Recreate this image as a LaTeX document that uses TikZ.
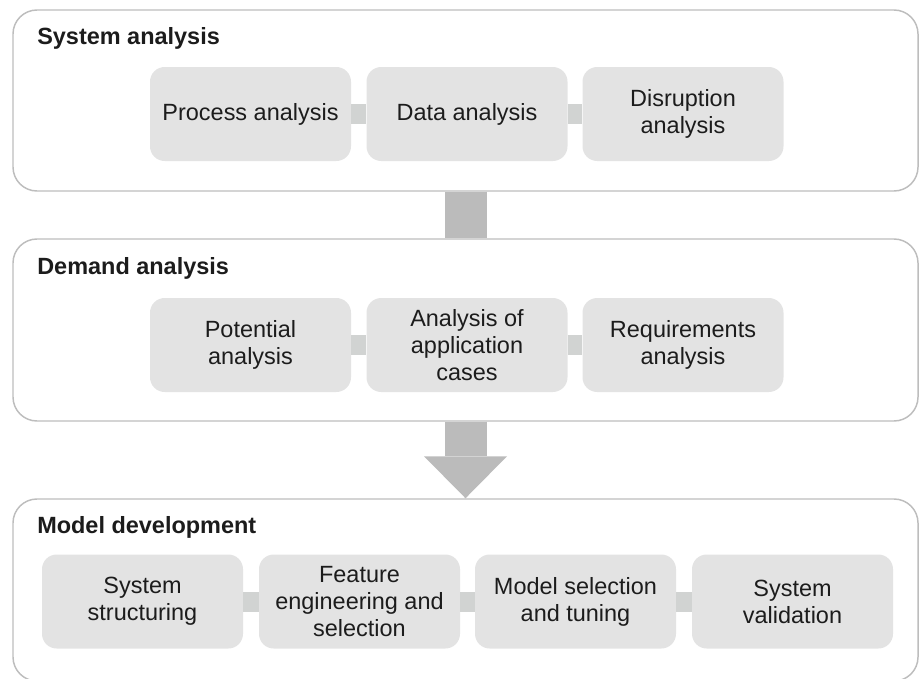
\documentclass[tikz,border=0pt]{standalone}
\usepackage{fontspec}
\setmainfont{Liberation Sans}
\usetikzlibrary{arrows.meta}
\definecolor{framegray}{HTML}{BDBDBD}
\definecolor{boxgray}{HTML}{E3E3E3}
\definecolor{linkgray}{HTML}{D1D3D2}
\definecolor{bargray}{HTML}{BBBBBB}
\definecolor{textdark}{HTML}{1C1C1C}
\tikzset{
  panel/.style={draw=framegray, line width=1.1pt, rounded corners=18pt, minimum width=678.75pt, inner sep=0pt},
  stage/.style={fill=boxgray, rounded corners=11pt, minimum width=150.75pt, minimum height=70.5pt,
    align=center, inner sep=0pt, text=textdark, font=\fontsize{17.6}{20.25}\selectfont},
  title/.style={anchor=base west, inner sep=0pt, text=textdark, font=\fontsize{17.6}{20.25}\selectfont\bfseries},
  link/.style={draw=linkgray, line width=15pt},
  bar/.style={draw=bargray, line width=31.5pt},
}
\begin{document}
\begin{tikzpicture}[x=0.75pt, y=-0.75pt]
\useasboundingbox (0,0) rectangle (919,678);
% panels
\node[panel, minimum height=135.75pt] (sys) at (465.5,100.5) {};
\node[panel, minimum height=136.5pt] (dem) at (465.5,330) {};
\node[panel, minimum height=136.5pt] (mod) at (465.5,590) {};
\node[title] (systitle) at (37,44) {System analysis};
\node[title] (demtitle) at (37,274) {Demand analysis};
\node[title] (modtitle) at (37,533) {Model development};
% system analysis
\node[stage] (proc) at (250.5,114) {Process analysis};
\node[stage] (data) at (467,114) {Data analysis};
\node[stage] (disr) at (683,114) {Disruption\\analysis};
% demand analysis
\node[stage] (pot) at (250.5,345) {Potential\\analysis};
\node[stage] (appl) at (467,345) {Analysis of\\application\\cases};
\node[stage] (req) at (683,345) {Requirements\\analysis};
% model development
\node[stage] (struc) at (142.5,601.5) {System\\structuring};
\node[stage] (feat) at (359.5,601.5) {Feature\\engineering and\\selection};
\node[stage] (msel) at (575.5,601.5) {Model selection\\and tuning};
\node[stage] (valid) at (792.5,601.5) {System\\validation};
% links
\draw[link] (proc) -- (data);
\draw[link] (data) -- (disr);
\draw[link] (pot) -- (appl);
\draw[link] (appl) -- (req);
\draw[link] (struc) -- (feat);
\draw[link] (feat) -- (msel);
\draw[link] (msel) -- (valid);
% flow between panels
\draw[bar] (sys) -- (dem);
\draw[bar, -{Triangle[length=31.5pt, width=62.25pt, line width=0pt]}] (dem) -- (mod);
\end{tikzpicture}
\end{document}
